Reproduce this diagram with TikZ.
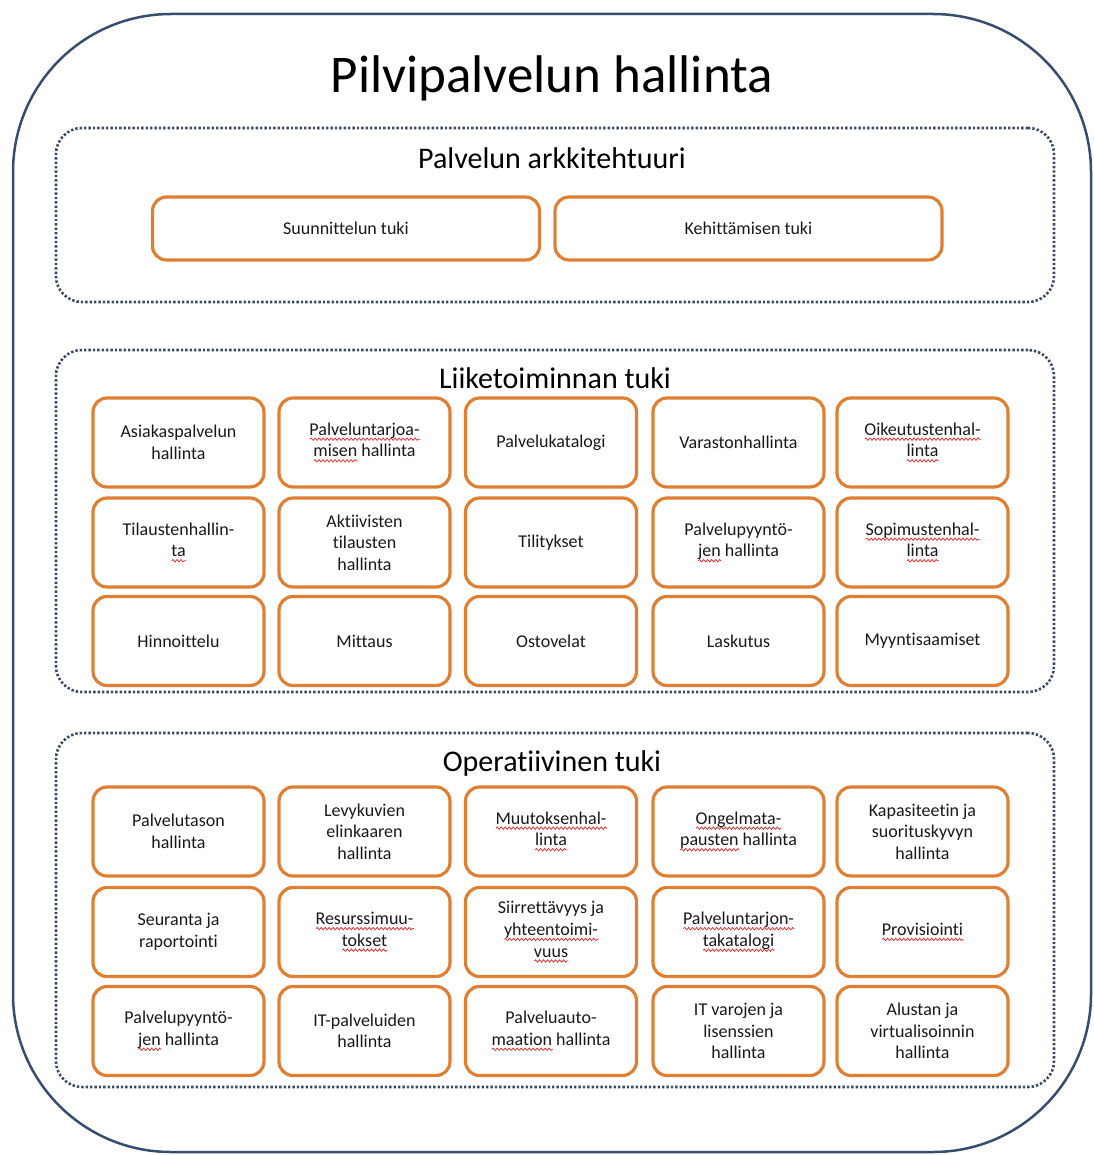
\documentclass[tikz,border=0pt]{standalone}
\usepackage{fontspec}
\setmainfont{Carlito}[Ligatures=NoCommon]
\usetikzlibrary{decorations.pathmorphing}

\definecolor{frameblue}{RGB}{56,76,110}
\definecolor{dotblue}{RGB}{60,74,100}
\definecolor{boxorange}{RGB}{222,128,52}
\definecolor{spellred}{RGB}{225,45,45}

% red wavy underline of a spell-checked word
\newlength\wvlen
\newcommand\wv[1]{\settowidth\wvlen{#1}%
  \rlap{\tikz[x=1pt,y=1pt,baseline=0pt,sharp corners]
    \draw[spellred,line width=0.75pt,decorate,
          decoration={snake,amplitude=1.2pt,segment length=4pt}]
      (0,-4) -- (\wvlen,-4pt);}#1}

\tikzset{
  outerframe/.style={draw=frameblue, line width=2.5pt, rounded corners=158pt},
  group/.style={draw=dotblue, line width=2.6pt, dash pattern=on 2.4pt off 2pt,
                rounded corners=26pt, inner sep=0pt},
  item/.style={draw=boxorange, line width=3.2pt, rounded corners=14pt, fill=white,
               minimum width=171pt, minimum height=89pt, inner sep=0pt, align=center,
               text=black!90, font=\fontsize{18}{21.6}\selectfont},
  wideitem/.style={item, minimum width=387pt, minimum height=63pt},
  head/.style={font=\fontsize{30}{34}\selectfont, inner sep=0pt},
  title/.style={font=\fontsize{53}{60}\selectfont, inner sep=0pt},
}

\begin{document}
\begin{tikzpicture}[x=1pt, y=-1pt]
\useasboundingbox (0,0) rectangle (1093,1155);

% outer frame
\draw[outerframe] (13,14) rectangle (1091,1152);
\node[title] (title) at (552,78) {Pilvipalvelun hallinta};

% group frames
\node[group, minimum width=998pt, minimum height=174pt] (arch) at (555,215) {};
\node[group, minimum width=998pt, minimum height=342pt] (biz)  at (555,521) {};
\node[group, minimum width=998pt, minimum height=354pt] (ops)  at (555,910) {};

\node[head] (archhead) at (552,158) {Palvelun arkkitehtuuri};
\node[head] (bizhead)  at (555,378) {Liiketoiminnan tuki};
\node[head] (opshead)  at (552,763) {Operatiivinen tuki};

% architecture support
\node[wideitem] (a1) at (346,228.5) {Suunnittelun tuki};
\node[wideitem] (a2) at (748.5,228.5) {Kehittämisen tuki};

% business support
\node[item] (b11) at (178.5,442.5) {Asiakaspalvelun\\hallinta};
\node[item] (b12) at (364.5,442.5) {\wv{Palveluntarjoa-}\\\wv{misen} hallinta};
\node[item] (b13) at (551,442.5)   {Palvelukatalogi};
\node[item] (b14) at (738.5,442.5) {Varastonhallinta};
\node[item] (b15) at (922.5,442.5) {\wv{Oikeutustenhal-}\\\wv{linta}};

\node[item] (b21) at (178.5,542.5) {Tilaustenhallin-\\\wv{ta}};
\node[item] (b22) at (364.5,542.5) {Aktiivisten\\tilausten\\hallinta};
\node[item] (b23) at (551,542.5)   {Tilitykset};
\node[item] (b24) at (738.5,542.5) {Palvelupyyntö-\\\wv{jen} hallinta};
\node[item] (b25) at (922.5,542.5) {\wv{Sopimustenhal-}\\\wv{linta}};

\node[item] (b31) at (178.5,641) {Hinnoittelu};
\node[item] (b32) at (364.5,641) {Mittaus};
\node[item] (b33) at (551,641)   {Ostovelat};
\node[item] (b34) at (738.5,641) {Laskutus};
\node[item] (b35) at (922.5,641) {Myyntisaamiset};

% operational support
\node[item] (o11) at (178.5,831.5) {Palvelutason\\hallinta};
\node[item] (o12) at (364.5,831.5) {Levykuvien\\elinkaaren\\hallinta};
\node[item] (o13) at (551,831.5)   {\wv{Muutoksenhal-}\\\wv{linta}};
\node[item] (o14) at (738.5,831.5) {\wv{Ongelmata-}\\\wv{pausten} hallinta};
\node[item] (o15) at (922.5,831.5) {Kapasiteetin ja\\suorituskyvyn\\hallinta};

\node[item] (o21) at (178.5,932) {Seuranta ja\\raportointi};
\node[item] (o22) at (364.5,932) {\wv{Resurssimuu-}\\\wv{tokset}};
\node[item] (o23) at (551,932)   {Siirrettävyys ja\\\wv{yhteentoimi-}\\\wv{vuus}};
\node[item] (o24) at (738.5,932) {\wv{Palveluntarjon-}\\\wv{takatalogi}};
\node[item] (o25) at (922.5,932) {\wv{Provisiointi}};

\node[item] (o31) at (178.5,1031) {Palvelupyyntö-\\\wv{jen} hallinta};
\node[item] (o32) at (364.5,1031) {IT-palveluiden\\hallinta};
\node[item] (o33) at (551,1031)   {Palveluauto-\\\wv{maation} hallinta};
\node[item] (o34) at (738.5,1031) {IT varojen ja\\lisenssien\\hallinta};
\node[item] (o35) at (922.5,1031) {Alustan ja\\virtualisoinnin\\hallinta};
\end{tikzpicture}
\end{document}
